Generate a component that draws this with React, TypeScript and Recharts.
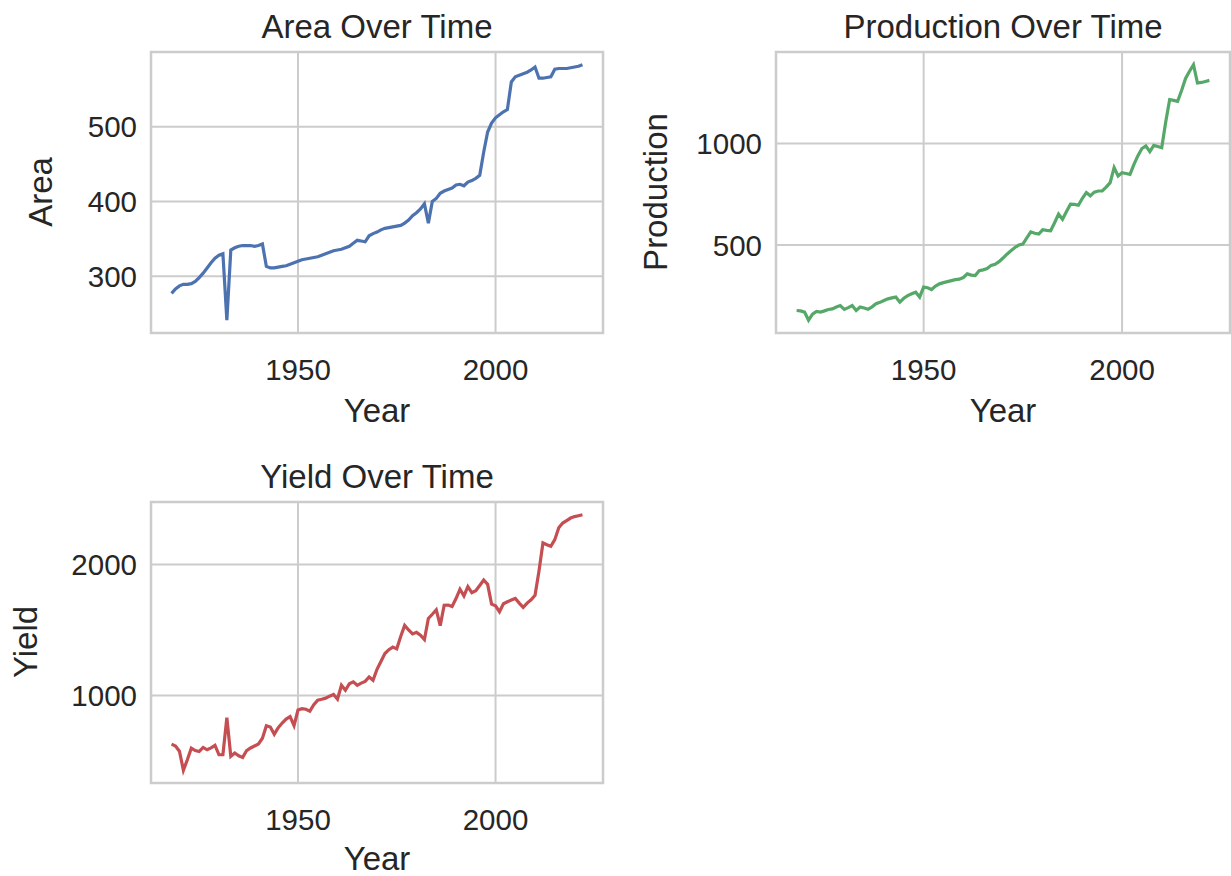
import { LineChart, Line, XAxis, YAxis, CartesianGrid, ReferenceArea } from 'recharts';

const years = [
  1918, 1919, 1920, 1921, 1922, 1923, 1924, 1925, 1926, 1927, 1928, 1929,
  1930, 1931, 1932, 1933, 1934, 1935, 1936, 1937, 1938, 1939,
  1940, 1941, 1942, 1943, 1944, 1945, 1946, 1947, 1948, 1949,
  1950, 1951, 1952, 1953, 1954, 1955, 1956, 1957, 1958, 1959,
  1960, 1961, 1962, 1963, 1964, 1965, 1966, 1967, 1968, 1969,
  1970, 1971, 1972, 1973, 1974, 1975, 1976, 1977, 1978, 1979,
  1980, 1981, 1982, 1983, 1984, 1985, 1986, 1987, 1988, 1989,
  1990, 1991, 1992, 1993, 1994, 1995, 1996, 1997, 1998, 1999,
  2000, 2001, 2002, 2003, 2004, 2005, 2006, 2007, 2008, 2009,
  2010, 2011, 2012, 2013, 2014, 2015, 2016, 2017, 2018, 2019,
  2020, 2021, 2022,
];

const area = [
  277, 283, 287, 289, 289, 290, 293, 298, 304, 311, 318, 324,
  328, 330, 241, 335, 338, 340, 341, 341, 341, 340,
  341, 343, 313, 311, 311, 312, 313, 314, 316, 318,
  320, 322, 323, 324, 325, 326, 328, 330, 332, 334,
  335, 336, 338, 340, 344, 348, 347, 346, 354, 357,
  359, 362, 364, 365, 366, 367, 368, 371, 375, 381,
  385, 390, 397, 371, 400, 404, 411, 414, 416, 418,
  422, 423, 421, 426, 428, 431, 435, 466, 493, 505,
  512, 516, 520, 523, 560, 567, 569, 571, 573, 576,
  580, 565, 565, 566, 567, 577, 578, 578, 578, 579,
  580, 581, 583,
];

const production = [
  178, 176, 170, 130, 160, 173, 170, 176, 183, 186, 195, 202,
  183, 192, 202, 178, 195, 190, 184, 196, 211, 218,
  227, 235, 240, 244, 219, 238, 251, 260, 268, 244,
  293, 290, 281, 298, 309, 315, 320, 325, 330, 332,
  340, 358, 352, 350, 374, 378, 384, 400, 405, 418,
  436, 455, 472, 488, 500, 505, 535, 565, 558, 554,
  575, 572, 570, 610, 652, 627, 665, 701, 700, 696,
  730, 758, 742, 760, 766, 766, 785, 807, 881, 840,
  856, 852, 848, 897, 940, 975, 988, 960, 990, 985,
  979, 1105, 1216, 1212, 1207, 1260, 1320, 1355, 1387, 1297,
  1300, 1305, 1310,
];

const yieldValues = [
  629, 615, 575, 430, 510, 598, 580, 573, 604, 586, 600, 619,
  548, 548, 831, 536, 561, 540, 528, 580, 600, 615,
  630, 674, 770, 760, 705, 755, 790, 820, 839, 770,
  889, 900, 895, 881, 930, 965, 972, 980, 995, 1008,
  972, 1078, 1040, 1090, 1104, 1078, 1095, 1108, 1141, 1116,
  1200, 1260, 1320, 1350, 1369, 1356, 1450, 1535, 1500, 1470,
  1482, 1460, 1427, 1588, 1620, 1654, 1533, 1689, 1690, 1679,
  1740, 1811, 1760, 1831, 1785, 1800, 1840, 1881, 1848, 1697,
  1684, 1639, 1700, 1715, 1728, 1740, 1705, 1672, 1705, 1730,
  1765, 1950, 2164, 2150, 2139, 2189, 2280, 2316, 2335, 2354,
  2365, 2372, 2379,
];

const xTicks = [1950, 2000];
const areaTicks = [300, 400, 500];
const productionTicks = [500, 1000];
const yieldTicks = [1000, 2000];

const rows = years.map((year, i) => ({
  year,
  area: area[i],
  production: production[i],
  yield: yieldValues[i],
}));

const FONT = '"Liberation Sans", Arial, sans-serif';
const TEXT = '#262626';
const GRID = '#cccccc';

// matplotlib-style 5% margin around the data
function padded(values: number[]): [number, number] {
  const lo = Math.min(...values);
  const hi = Math.max(...values);
  const m = (hi - lo) * 0.05;
  return [lo - m, hi + m];
}

const xDomain = padded(years);

type PanelProps = {
  left: number;
  top: number;
  width: number;
  yAxisWidth: number;
  marginRight: number;
  dataKey: string;
  values: number[];
  ticks: number[];
  color: string;
};

function Panel({ left, top, width, yAxisWidth, marginRight, dataKey, values, ticks, color }: PanelProps) {
  const yDomain = padded(values);
  const tickStyle = { fill: TEXT, fontSize: 29.5, fontFamily: FONT };
  return (
    <div style={{ position: 'absolute', left, top }}>
      <LineChart width={width} height={400} data={rows} margin={{ top: 52, right: marginRight, bottom: 0, left: 0 }}>
        <CartesianGrid stroke={GRID} strokeWidth={2} />
        <ReferenceArea
          x1={xDomain[0]}
          x2={xDomain[1]}
          y1={yDomain[0]}
          y2={yDomain[1]}
          fill="none"
          stroke={GRID}
          strokeWidth={2.5}
        />
        <XAxis
          dataKey="year"
          type="number"
          domain={xDomain}
          ticks={xTicks}
          interval={0}
          allowDataOverflow
          axisLine={false}
          tickLine={false}
          tickSize={0}
          tickMargin={26}
          height={67}
          tick={tickStyle}
        />
        <YAxis
          type="number"
          domain={yDomain}
          ticks={ticks}
          interval={0}
          allowDataOverflow
          axisLine={false}
          tickLine={false}
          tickSize={0}
          tickMargin={14}
          width={yAxisWidth}
          tick={tickStyle}
        />
        <Line type="linear" dataKey={dataKey} stroke={color} strokeWidth={3.2} dot={false} isAnimationActive={false} />
      </LineChart>
    </div>
  );
}

const textBase = {
  position: 'absolute' as const,
  fontFamily: FONT,
  color: TEXT,
  fontSize: 33,
  lineHeight: 1,
  whiteSpace: 'nowrap' as const,
};

function Title({ cx, top, children }: { cx: number; top: number; children: string }) {
  return <div style={{ ...textBase, left: cx, top, transform: 'translateX(-50%)' }}>{children}</div>;
}

function VLabel({ cx, cy, children }: { cx: number; cy: number; children: string }) {
  return (
    <div style={{ ...textBase, left: cx, top: cy, transform: 'translate(-50%, -50%) rotate(-90deg)' }}>{children}</div>
  );
}

export default function App() {
  return (
    <div style={{ position: 'absolute', left: 0, top: 0, width: 1231, height: 876, background: '#ffffff', overflow: 'hidden' }}>
      {/* Area */}
      <Panel left={0} top={0} width={620} yAxisWidth={151} marginRight={17} dataKey="area" values={area} ticks={areaTicks} color="#4c72b0" />
      <Title cx={377} top={10}>Area Over Time</Title>
      <Title cx={377} top={394}>Year</Title>
      <VLabel cx={40} cy={192}>Area</VLabel>

      {/* Production */}
      <Panel left={620} top={0} width={611} yAxisWidth={156} marginRight={1} dataKey="production" values={production} ticks={productionTicks} color="#55a868" />
      <Title cx={1003} top={10}>Production Over Time</Title>
      <Title cx={1003} top={394}>Year</Title>
      <VLabel cx={655} cy={192}>Production</VLabel>

      {/* Yield */}
      <Panel left={0} top={450} width={620} yAxisWidth={151} marginRight={17} dataKey="yield" values={yieldValues} ticks={yieldTicks} color="#c44e52" />
      <Title cx={377} top={460}>Yield Over Time</Title>
      <Title cx={377} top={842}>Year</Title>
      <VLabel cx={25} cy={642}>Yield</VLabel>
    </div>
  );
}
